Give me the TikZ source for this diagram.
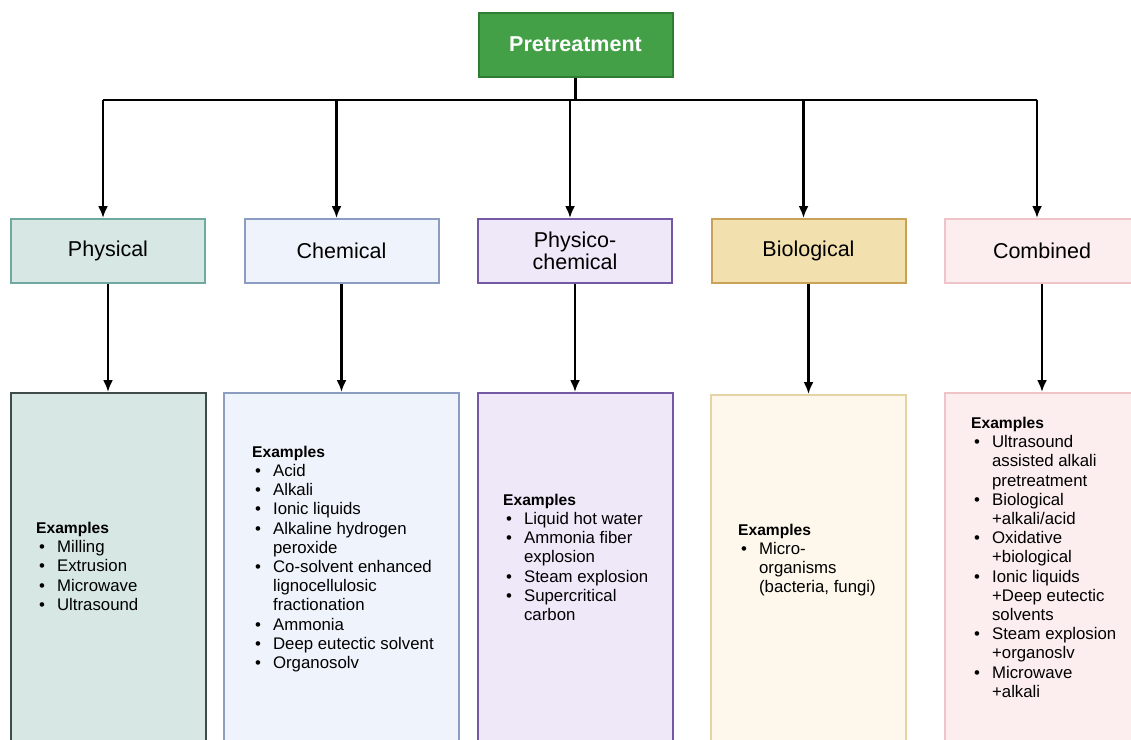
\documentclass[tikz,border=0pt]{standalone}
\usepackage{fontspec}
\setmainfont{Liberation Sans}
\usetikzlibrary{arrows.meta,positioning}

\definecolor{preFill}{HTML}{43A047}
\definecolor{preDraw}{HTML}{2E7D32}
\definecolor{physFill}{HTML}{D7E7E3}
\definecolor{physDraw}{HTML}{6FA99F}
\definecolor{physDark}{HTML}{3F4B49}
\definecolor{chemFill}{HTML}{EFF3FB}
\definecolor{chemDraw}{HTML}{8C9CC2}
\definecolor{pchemFill}{HTML}{EFE8F9}
\definecolor{pchemDraw}{HTML}{7458A4}
\definecolor{bioFill}{HTML}{F2E0AE}
\definecolor{bioDraw}{HTML}{C8A257}
\definecolor{bioLight}{HTML}{FDF8EB}
\definecolor{bioLine}{HTML}{E5D3A6}
\definecolor{combFill}{HTML}{FCEDEF}
\definecolor{combDraw}{HTML}{EFC4C8}

\newcommand{\exhead}{\multicolumn{2}{@{}l@{}}{\fontsize{15.6}{19.2}\selectfont\textbf{Examples}}\\}

\begin{document}
\begin{tikzpicture}[x=1pt, y=-1pt, node distance=37.5pt,
  every node/.style={align=center, font=\fontsize{21.5}{22.5}\selectfont},
  catbox/.style={draw, line width=2pt, minimum width=194pt, minimum height=64pt, inner sep=0pt},
  exbox/.style={draw, line width=2pt, minimum width=195pt, minimum height=370pt, inner sep=0pt},
  exlist/.style={anchor=west, inner sep=0pt, align=left, font=\fontsize{16.8}{19.2}\selectfont},
  link/.style={line width=2.2pt},
  arrow/.style={link, -{Latex[length=12pt, width=10pt]}}]
  \useasboundingbox (0,0) rectangle (1131,739);
  \clip (0,0) rectangle (1131,739);

  % top box
  \node[catbox, fill=preFill, draw=preDraw, text=white, font=\fontsize{21.5}{22.5}\selectfont\bfseries] (pre) at (575.5,44.5) {Pretreatment};

  % categories
  \node[catbox, fill=physFill, draw=physDraw] (phys) at (108,251) {Physical};
  \node[catbox, fill=chemFill, draw=chemDraw, right=of phys] (chem) {Chemical};
  \node[catbox, fill=pchemFill, draw=pchemDraw, right=of chem] (pchem) {Physico-\\chemical};
  \node[catbox, fill=bioFill, draw=bioDraw, right=of pchem] (bio) {Biological};
  \node[catbox, fill=combFill, draw=combDraw, right=of bio] (comb) {Combined};

  % example boxes
  \node[exbox, fill=physFill, draw=physDark, below=108pt of phys] (physex) {};
  \node[exbox, fill=chemFill, draw=chemDraw, minimum width=235pt, below=108pt of chem] (chemex) {};
  \node[exbox, fill=pchemFill, draw=pchemDraw, below=108pt of pchem] (pchemex) {};
  \node[exbox, fill=bioLight, draw=bioLine, below=110pt of bio] (bioex) {};
  \node[exbox, fill=combFill, draw=combDraw, below=108pt of comb] (combex) {};

  \node[exlist] (physlist) at (36,568) {\begin{tabular}{@{\hspace{3pt}}l@{\hspace{12pt}}l@{}}
    \exhead
    \textbullet & Milling\\
    \textbullet & Extrusion\\
    \textbullet & Microwave\\
    \textbullet & Ultrasound
  \end{tabular}};
  \node[exlist] (chemlist) at (252,559) {\begin{tabular}{@{\hspace{3pt}}l@{\hspace{12pt}}l@{}}
    \exhead
    \textbullet & Acid\\
    \textbullet & Alkali\\
    \textbullet & Ionic liquids\\
    \textbullet & Alkaline hydrogen\\
                & peroxide\\
    \textbullet & Co-solvent enhanced\\
                & lignocellulosic\\
                & fractionation\\
    \textbullet & Ammonia\\
    \textbullet & Deep eutectic solvent\\
    \textbullet & Organosolv
  \end{tabular}};
  \node[exlist] (pchemlist) at (503,559) {\begin{tabular}{@{\hspace{3pt}}l@{\hspace{12pt}}l@{}}
    \exhead
    \textbullet & Liquid hot water\\
    \textbullet & Ammonia fiber\\
                & explosion\\
    \textbullet & Steam explosion\\
    \textbullet & Supercritical\\
                & carbon
  \end{tabular}};
  \node[exlist] (biolist) at (738,560) {\begin{tabular}{@{\hspace{3pt}}l@{\hspace{12pt}}l@{}}
    \exhead
    \textbullet & Micro-\\
                & organisms\\
                & (bacteria, fungi)
  \end{tabular}};
  \node[exlist] (comblist) at (971,559) {\begin{tabular}{@{\hspace{3pt}}l@{\hspace{12pt}}l@{}}
    \exhead
    \textbullet & Ultrasound\\
                & assisted alkali\\
                & pretreatment\\
    \textbullet & Biological\\
                & +alkali/acid\\
    \textbullet & Oxidative\\
                & +biological\\
    \textbullet & Ionic liquids\\
                & +Deep eutectic\\
                & solvents\\
    \textbullet & Steam explosion\\
                & +organoslv\\
    \textbullet & Microwave\\
                & +alkali
  \end{tabular}};

  % connectors
  \coordinate (bus) at (575.5,100);
  \draw[link] (pre) -- (bus);
  \draw[link] ([xshift=-5pt]phys.north |- bus) -- ([xshift=-5pt]comb.north |- bus);
  \foreach \n in {phys,chem,pchem,bio,comb}
    \draw[arrow] ([xshift=-5pt]\n.north |- bus) -- ([xshift=-5pt]\n.north);
  \foreach \n in {phys,chem,pchem,bio,comb}
    \draw[arrow] (\n) -- (\n ex);
\end{tikzpicture}
\end{document}
